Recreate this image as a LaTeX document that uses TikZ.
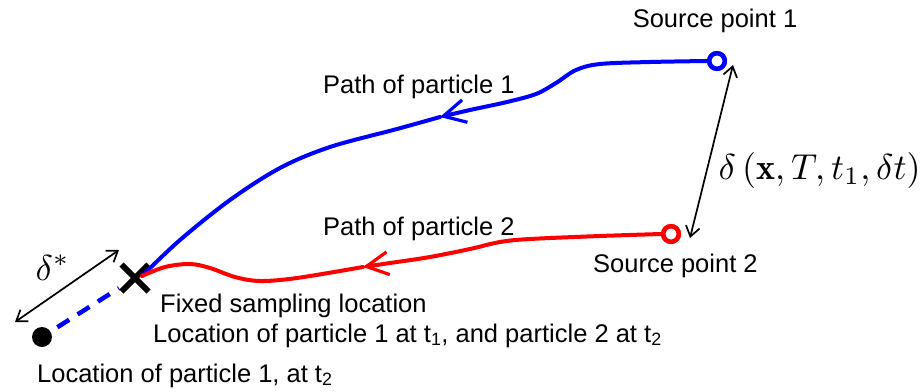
\documentclass[tikz,border=0pt]{standalone}
\usepackage{fontspec}
\newfontfamily\labfont{Liberation Sans}
\usetikzlibrary{arrows.meta,decorations.markings,shapes.misc}
\begin{document}
\begin{tikzpicture}[x=1pt,y=-1pt,
  lab/.style={font=\labfont\fontsize{25.5}{30}\selectfont, inner sep=0pt, anchor=base west},
  mathlab/.style={scale=3.6, inner sep=0pt, anchor=base west},
  dbl/.style={line width=1.7pt, {Straight Barb[length=10pt,width=14pt]}-{Straight Barb[length=10pt,width=14pt]}},
  pathline/.style={line width=4pt, line cap=round, line join=round},
  midtip/.style={-{Straight Barb[length=22pt,width=23pt,line width=3.2pt]}},
  src/.style={circle, draw=#1, line width=4.5pt, minimum size=15.5pt, inner sep=0pt, fill=white},
]
\useasboundingbox (0,0) rectangle (923,391);

% key points
\node[src=blue] (s1) at (717,61) {};
\node[src=red] (s2) at (671,234) {};
\node[cross out, draw, line width=6pt, minimum size=21pt, inner sep=0pt] (xm) at (135,278) {};
\coordinate (xj) at (142,276);
\node[circle, fill=black, minimum size=20pt, inner sep=0pt] (p1) at (42,337) {};
\coordinate (m1) at (440,117);
\coordinate (m2) at (363,267);

% paths (source -> mid arrow -> sampling location)
\draw[blue, pathline, midtip] plot[smooth, tension=0.55] coordinates {(s1.west) (650,62) (600,64) (576,70) (556,83) (536,94) (507,102) (470,110) (m1)};
\draw[blue, pathline] plot[smooth, tension=0.55] coordinates {(m1) (397,129) (330,147) (280,168) (230,200) (180,240) (xj)};
\draw[red, pathline, midtip] plot[smooth, tension=0.55] coordinates {(s2.west) (600,236) (530,239) (500,242) (470,249) (430,257) (390,263) (m2)};
\draw[red, pathline] plot[smooth, tension=0.55] coordinates {(m2) (297,278) (260,281) (235,277) (210,268) (190,264) (165,267) (xj)};

% redraw sources on top
\node[src=blue] at (s1) {};
\node[src=red] at (s2) {};

% dashed displacement
\draw[blue, line width=4.5pt, dash pattern=on 14pt off 10pt, shorten <=8pt, shorten >=3pt] (p1) -- (xm);

% distance arrows
\coordinate (da) at (15,322);
\coordinate (db) at (119,250);
\draw[dbl] (da) -- (db);
\coordinate (dc) at (733,65);
\coordinate (dd) at (690,238);
\draw[dbl] (dc) -- (dd);

% labels
\node[lab, anchor=base] (t1) at (715,27) {Source point 1};
\node[lab] (t2) at (323,93) {Path of particle 1};
\node[lab] (t3) at (323,235) {Path of particle 2};
\node[lab] (t4) at (593,272) {Source point 2};
\node[lab] (t5) at (160,312) {Fixed sampling location};
\node[lab] (t6) at (153,342) {Location of particle 1 at t\textsubscript{1}, and particle 2 at t\textsubscript{2}};
\node[lab] (t7) at (37,382) {Location of particle 1, at t\textsubscript{2}};
\node[mathlab] (d1) at (35,280) {$\delta^{*}$};
\node[mathlab] (d2) at (718,179) {$\delta\left(\mathbf{x},T,t_1,\delta t\right)$};
\end{tikzpicture}
\end{document}
